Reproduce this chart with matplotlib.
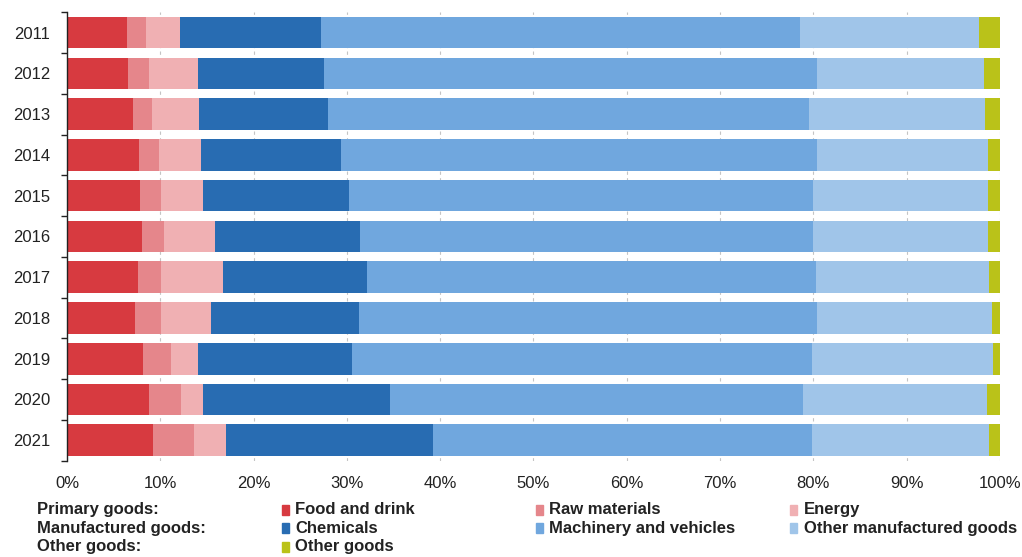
import numpy as np
import matplotlib.pyplot as plt
from matplotlib.patches import Rectangle
from matplotlib.ticker import FixedLocator, PercentFormatter

plt.rcParams['font.family'] = ['Liberation Sans', 'DejaVu Sans']

years = ['2011', '2012', '2013', '2014', '2015', '2016',
         '2017', '2018', '2019', '2020', '2021']

# shares of total, in %
food_and_drink = [6.4, 6.5, 7.1, 7.7, 7.8, 8.0, 7.6, 7.3, 8.1, 8.8, 9.2]
raw_materials = [2.1, 2.3, 2.0, 2.2, 2.3, 2.4, 2.5, 2.8, 3.1, 3.4, 4.4]
energy = [3.6, 5.2, 5.0, 4.5, 4.5, 5.5, 6.6, 5.3, 2.8, 2.4, 3.4]
chemicals = [15.1, 13.5, 13.9, 15.0, 15.65, 15.5, 15.5, 15.9, 16.6, 20.0, 22.25]
machinery = [51.4, 52.9, 51.5, 51.0, 49.75, 48.6, 48.1, 49.1, 49.3, 44.3, 40.55]
other_manufactured = [19.1, 17.9, 18.9, 18.3, 18.7, 18.7, 18.55, 18.7, 19.4, 19.7, 19.05]
other_goods = [2.3, 1.7, 1.6, 1.3, 1.3, 1.3, 1.15, 0.9, 0.7, 1.4, 1.15]

series = [
    ('Food and drink', food_and_drink, '#d73a40'),
    ('Raw materials', raw_materials, '#e5868b'),
    ('Energy', energy, '#f0b0b3'),
    ('Chemicals', chemicals, '#286cb2'),
    ('Machinery and vehicles', machinery, '#70a7de'),
    ('Other manufactured goods', other_manufactured, '#a0c5e9'),
    ('Other goods', other_goods, '#bac219'),
]

groups = [
    ('Primary goods:', [0, 1, 2]),
    ('Manufactured goods:', [3, 4, 5]),
    ('Other goods:', [6]),
]

fig = plt.figure(figsize=(10.22, 5.57), dpi=100)
ax = fig.add_axes([0.0655, 0.173, 0.913, 0.805])

y = np.arange(len(years))
left = np.zeros(len(years))
for name, vals, color in series:
    vals = np.array(vals)
    ax.barh(y, vals, left=left, height=0.775, color=color, zorder=2)
    left += vals

ax.set_xlim(0, 100)
ax.set_ylim(len(years) - 0.5, -0.5)
ax.set_xticks(np.arange(0, 101, 10))
ax.xaxis.set_major_formatter(PercentFormatter(decimals=0))
ax.tick_params(axis='x', length=0, pad=11, labelsize=12, labelcolor='#222222')
ax.grid(axis='x', color='#c4c4c4', linestyle=(0, (3, 3)), linewidth=0.8, zorder=0)

ax.set_yticks(y)
ax.set_yticklabels(years)
ax.yaxis.set_minor_locator(FixedLocator(np.arange(len(years) + 1) - 0.5))
ax.tick_params(axis='y', which='major', length=0, pad=12, labelsize=12, labelcolor='#222222')
ax.tick_params(axis='y', which='minor', length=4, width=1.0, color='#222222')

for side in ['top', 'right', 'bottom']:
    ax.spines[side].set_visible(False)
ax.spines['left'].set_color('#222222')
ax.spines['left'].set_linewidth(1.0)

# legend laid out as a grid: group label, then its categories
row_y = [0.0844, 0.052, 0.018]
col_marker_x = [0.276, 0.5245, 0.773]
col_text_x = [0.2886, 0.537, 0.7867]
for r, (label, idx) in enumerate(groups):
    fig.text(0.0362, row_y[r], label, fontsize=12, fontweight='bold',
             color='#222222', va='center', ha='left')
    for c, i in enumerate(idx):
        name, _, color = series[i]
        fig.add_artist(Rectangle((col_marker_x[c], row_y[r] - 0.0095), 0.0068, 0.019,
                                 transform=fig.transFigure, color=color))
        fig.text(col_text_x[c], row_y[r], name, fontsize=12, fontweight='bold',
                 color='#222222', va='center', ha='left')

fig.savefig('out.png', dpi=100)
